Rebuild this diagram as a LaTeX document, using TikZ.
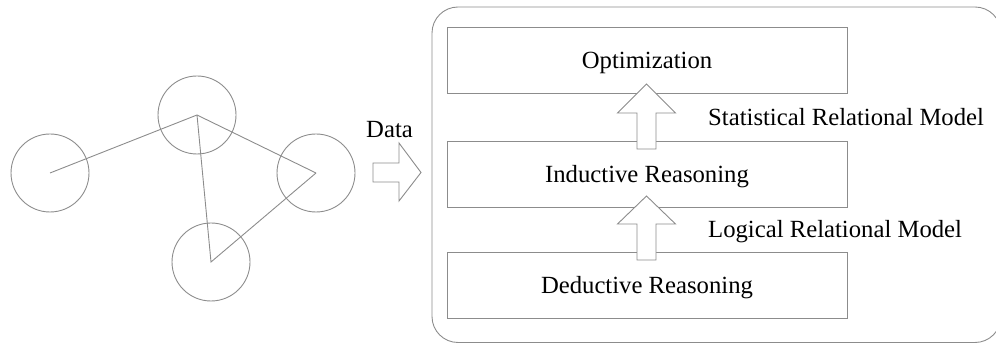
\documentclass[tikz,border=0pt]{standalone}
\usepackage{fontspec}
\setmainfont{Liberation Serif}
\definecolor{linegray}{RGB}{140,140,140}
\tikzset{
  stroke/.style={draw=linegray, line width=0.9pt},
  ball/.style={stroke, circle, minimum size=78pt, inner sep=0pt},
  layerbox/.style={stroke, rectangle, minimum width=400pt, minimum height=66pt,
    inner sep=0pt, text height=16.4pt, text depth=0pt},
  hollow/.style={stroke, fill=white, line join=miter},
  lbl/.style={anchor=base west, inner sep=0pt}
}
\begin{document}
\begin{tikzpicture}[x=1pt, y=-1pt, font=\fontsize{24.7}{30}\selectfont]
\useasboundingbox (0,0) rectangle (996,344);
\clip (0,0) rectangle (996,344);

% graph of four balls joined through their centres
\node[ball] (c1) at (50,173) {};
\node[ball] (c2) at (197,115) {};
\node[ball] (c3) at (316,173) {};
\node[ball] (c4) at (211,262) {};
\draw[stroke] (c1.center) -- (c2.center) -- (c3.center);
\draw[stroke] (c2.center) -- (c4.center) -- (c3.center);

% data arrow
\node[lbl] (data) at (366,138) {Data};
\draw[hollow] (373,163) -- (399,163) -- (399,143) -- (421,172.5)
  -- (399,201) -- (399,182) -- (373,182) -- cycle;

% outer frame
\draw[stroke, rounded corners=26pt] (432,7) rectangle (1001,342.5);

% reasoning layers
\node[layerbox] (opt) at (647,60) {Optimization};
\node[layerbox] (ind) at (647,174.5) {Inductive Reasoning};
\node[layerbox] (ded) at (647,285) {Deductive Reasoning};

% upward hollow arrows between layers
\draw[hollow] (637,149) -- (637,113) -- (617.5,113) -- (646.5,84) -- (675.5,113)
  -- (656,113) -- (656,149) -- cycle;
\draw[hollow] (637,260) -- (637,224) -- (617.5,224) -- (646.5,196) -- (675.5,224)
  -- (656,224) -- (656,260) -- cycle;

% model labels
\node[lbl] (srm) at (708,126) {Statistical Relational Model};
\node[lbl] (lrm) at (708,238) {Logical Relational Model};
\end{tikzpicture}
\end{document}
